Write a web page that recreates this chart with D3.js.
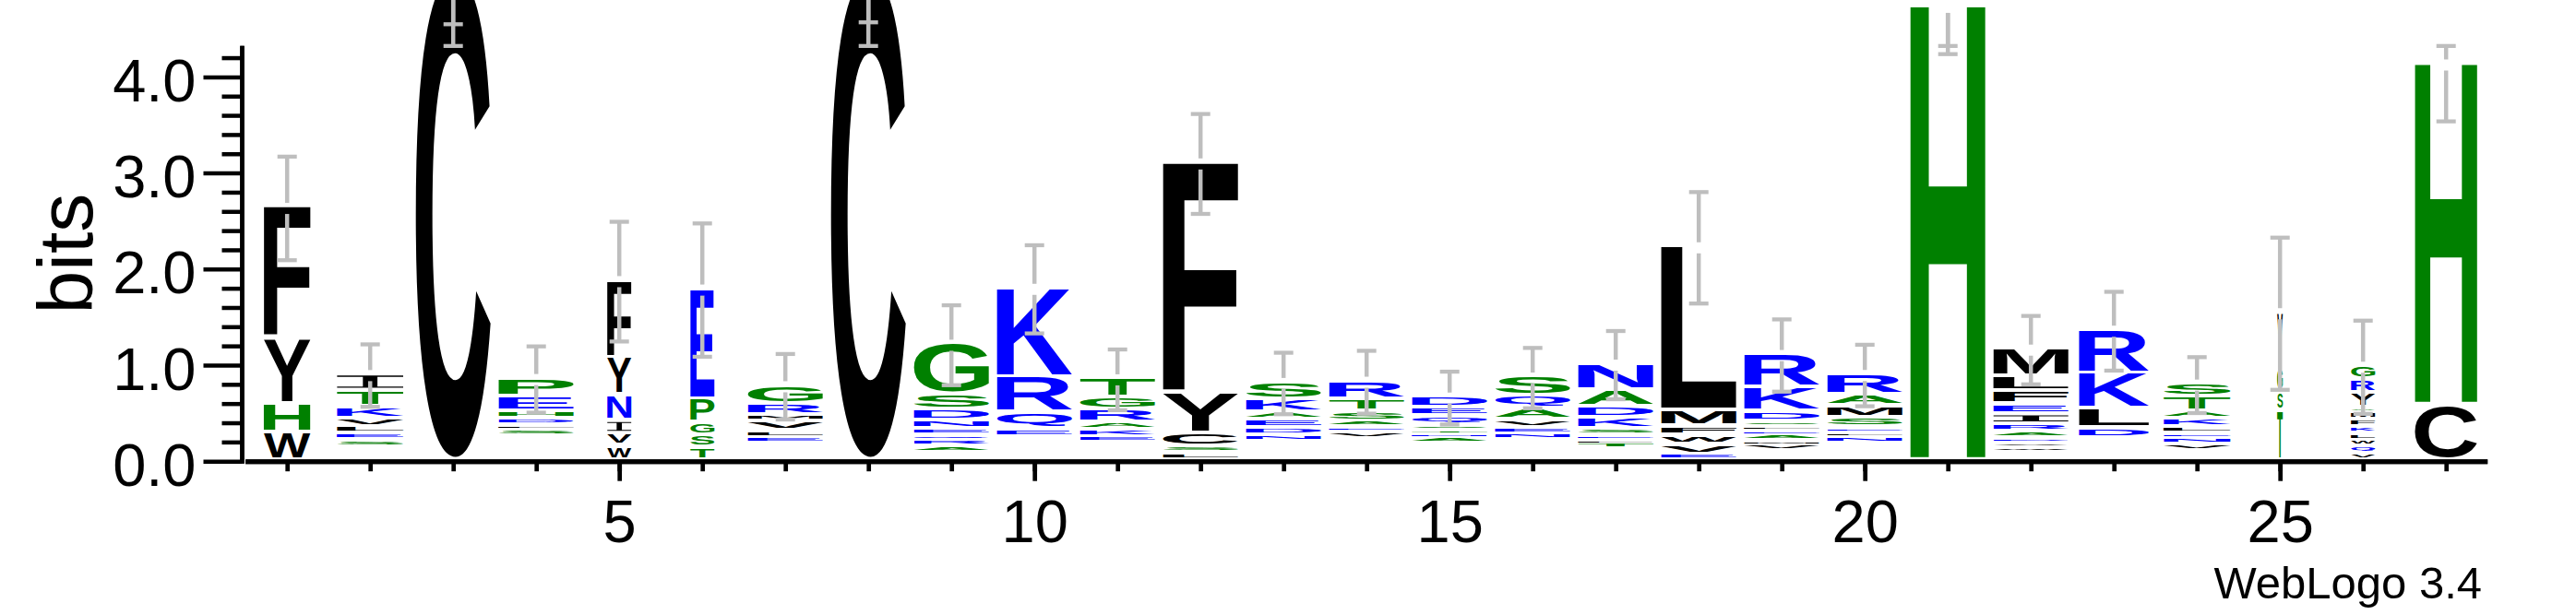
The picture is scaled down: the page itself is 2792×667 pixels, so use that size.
<!DOCTYPE html>
<html>
<head>
<meta charset="utf-8">
<script src="https://cdn.jsdelivr.net/npm/d3@7"></script>
<style>
  html, body { margin: 0; padding: 0; background: #ffffff; }
  svg { display: block; }
</style>
</head>
<body>
<svg id="chart" width="2792" height="667"></svg>
<script>
// ---------------- DATA ----------------
const positions = [1,2,3,4,5,6,7,8,9,10,11,12,13,14,15,16,17,18,19,20,21,22,23,24,25,26,27];

// letters of each stack, listed bottom -> top
const stackLetters = [
  "WHYF", "SELVKTI", "C", "SLDHEP", "WVINYF", "TSGPE", "ELVMRG", "C", "ARQENDSG",
  "EQRK", "EKARGT", "LSCYF", "NDEAKS", "VEASTR", "ANTSQED", "NEVAQS", "TLESKDAN",
  "EVWFML", "VMAELSDKR", "NLESMAR", "H", "WVDARIEFLM", "DLKR", "VNELKATS", "TSGY",
  "VQWLKFMAYRG", "CH"
];

// height (bits) of each letter, same order as stackLetters
const stackBits = [
  [0.288, 0.297, 0.684, 1.362],
  [0.072, 0.067, 0.074, 0.086, 0.118, 0.170, 0.170],
  [5.045],
  [0.059, 0.048, 0.067, 0.077, 0.154, 0.192],
  [0.146, 0.128, 0.134, 0.266, 0.393, 0.802],
  [0.130, 0.129, 0.128, 0.247, 1.147],
  [0.058, 0.072, 0.106, 0.060, 0.112, 0.197],
  [5.045],
  [0.059, 0.061, 0.058, 0.063, 0.090, 0.111, 0.157, 0.528],
  [0.081, 0.171, 0.369, 0.928],
  [0.059, 0.077, 0.074, 0.134, 0.131, 0.195],
  [0.072, 0.067, 0.141, 0.425, 2.389],
  [0.066, 0.073, 0.086, 0.081, 0.137, 0.176],
  [0.072, 0.053, 0.058, 0.106, 0.123, 0.192],
  [0.059, 0.045, 0.041, 0.048, 0.096, 0.090, 0.111],
  [0.060, 0.067, 0.080, 0.112, 0.134, 0.202],
  [0.060, 0.032, 0.048, 0.070, 0.119, 0.111, 0.179, 0.269],
  [0.057, 0.106, 0.096, 0.089, 0.166, 1.707],
  [0.056, 0.052, 0.058, 0.048, 0.048, 0.048, 0.102, 0.250, 0.345],
  [0.062, 0.051, 0.055, 0.103, 0.121, 0.112, 0.218],
  [4.724],
  [0.053, 0.048, 0.055, 0.058, 0.080, 0.106, 0.103, 0.134, 0.154, 0.288],
  [0.101, 0.199, 0.368, 0.455],
  [0.066, 0.063, 0.055, 0.058, 0.089, 0.077, 0.151, 0.137],
  [0.513, 0.199, 0.240, 0.583],
  [0.066, 0.073, 0.064, 0.070, 0.071, 0.073, 0.081, 0.048, 0.150, 0.144, 0.138],
  [0.576, 3.548]
];

// bits taken by symbols too small to be drawn (bottom of stack)
const hiddenBase = [0, 0.134, 0, 0.253, 0, 0, 0.170, 0, 0.080, 0.240, 0.177, 0, 0.190, 0.218,
  0.167, 0.210, 0.112, 0, 0.093, 0.170, 0, 0.077, 0.230, 0.096, 0, 0, 0];

// relative stack width (fraction of sequences present)
const stackWidth = [0.62, 0.885, 1, 1, 0.32, 0.32, 1, 1, 1, 1, 1, 1, 1, 1, 1, 1, 1, 1, 1, 1, 1, 1,
  0.93, 0.89, 0.074, 0.32, 0.83];

// half-length of the error bar (bits)
const errHalf = [0.539, 0.325, 0.497, 0.345, 0.623, 0.694, 0.341, 0.477, 0.416, 0.459, 0.316,
  0.520, 0.320, 0.327, 0.275, 0.314, 0.355, 0.580, 0.376, 0.320, 0.487, 0.356, 0.410, 0.291,
  0.792, 0.485, 0.587];

const yMajorTicks = [0, 1, 2, 3, 4];
const yMinorTicks = [0.2, 0.4, 0.6, 0.8, 1.2, 1.4, 1.6, 1.8, 2.2, 2.4, 2.6, 2.8, 3.2, 3.4, 3.6, 3.8, 4.2];
const xLabelTicks = [5, 10, 15, 20, 25];
const yAxisTitle = "bits";
const fineprint = "WebLogo 3.4";
const maxBits = Math.log2(20);

// ---------------- DRAW ----------------
const svg = d3.select("#chart");
svg.append("rect").attr("width", 2792).attr("height", 667).attr("fill", "#ffffff");

const x = d3.scaleLinear().domain([0.5, 27.5]).range([266.2, 2696.2]);
const y = d3.scaleLinear().domain([0, maxBits]).range([500.2, 500.2 - maxBits * 104.2]);
const fullWidth = 81;
const font = '"Liberation Sans", Arial, sans-serif';

const colorOf = ch => "RKDENQ".includes(ch) ? "#0000ff" : ("SGHTAP".includes(ch) ? "#008000" : "#000000");

// exact ink bounds of each glyph, measured by scanning a canvas
const FS = 1000, OX = 300, OY = 1150;
const canvas = document.createElement("canvas");
canvas.width = 1600; canvas.height = 1500;
const ctx = canvas.getContext("2d", { willReadFrequently: true });
const metricCache = {};
function glyphMetrics(ch) {
  if (metricCache[ch]) return metricCache[ch];
  ctx.clearRect(0, 0, canvas.width, canvas.height);
  ctx.font = `bold ${FS}px "Liberation Sans"`;
  ctx.textBaseline = "alphabetic";
  ctx.fillStyle = "#000";
  ctx.fillText(ch, OX, OY);
  const data = ctx.getImageData(0, 0, canvas.width, canvas.height).data;
  let minX = Infinity, maxX = -1, minY = Infinity, maxY = -1;
  for (let yy = 0; yy < canvas.height; yy++) {
    for (let xx = 0; xx < canvas.width; xx++) {
      if (data[(yy * canvas.width + xx) * 4 + 3] > 127) {
        if (xx < minX) minX = xx; if (xx > maxX) maxX = xx;
        if (yy < minY) minY = yy; if (yy > maxY) maxY = yy;
      }
    }
  }
  let res;
  if (maxX < 0) {
    const t = ctx.measureText(ch);
    res = { l: t.actualBoundingBoxLeft, r: t.actualBoundingBoxRight, a: t.actualBoundingBoxAscent, d: t.actualBoundingBoxDescent };
  } else {
    res = { l: OX - minX, r: maxX + 1 - OX, a: OY - minY, d: maxY + 1 - OY };
  }
  metricCache[ch] = res;
  return res;
}

const gLetters = svg.append("g").attr("class", "letters");
const stackTops = [];

positions.forEach((p, i) => {
  const w = fullWidth * stackWidth[i];
  const x0 = x(p) - w / 2;
  let cum = hiddenBase[i];
  stackLetters[i].split("").forEach((ch, j) => {
    const h = stackBits[i][j];
    const yTop = y(cum + h), yBot = y(cum);
    cum += h;
    const box = yBot - yTop;
    const pad = Math.min(4.5, 0.7 * box);
    const inkH = box - pad;
    if (inkH < 0.4) return;
    if (ch === "I") {
      const t = Math.max(1, inkH * 0.1);
      const s = Math.max(1.5, w * 0.22);
      const side = (w - s) / 2;
      const d = `M${x0},${yTop}h${w}v${t}h${-side}v${inkH - 2 * t}h${side}v${t}h${-w}v${-t}h${side}v${-(inkH - 2 * t)}h${-side}Z`;
      gLetters.append("path").attr("d", d).attr("fill", colorOf(ch));
    } else {
      const m = glyphMetrics(ch);
      const sx = w / (m.l + m.r);
      const sy = inkH / (m.a + m.d);
      gLetters.append("text")
        .attr("transform", `translate(${x0 + m.l * sx},${yTop + m.a * sy}) scale(${sx},${sy})`)
        .attr("font-family", '"Liberation Sans"')
        .attr("font-weight", "bold")
        .attr("font-size", FS + "px")
        .attr("fill", colorOf(ch))
        .text(ch);
    }
  });
  stackTops.push(cum);
});

// error bars
const gErr = svg.append("g").attr("class", "errorbars");
const gap = 6;
positions.forEach((p, i) => {
  const top = stackTops[i];
  const cx = x(p);
  const yt = y(top);
  const ends = [Math.min(top + errHalf[i], maxBits), top - errHalf[i]];
  ends.forEach(v => {
    const ye = y(v);
    const dir = Math.sign(ye - yt);
    if (Math.abs(ye - yt) > gap) {
      gErr.append("line").attr("x1", cx).attr("x2", cx)
        .attr("y1", yt + dir * gap).attr("y2", ye)
        .attr("stroke", "#bebebe").attr("stroke-width", 4.5);
    }
    gErr.append("line").attr("x1", cx - 10.5).attr("x2", cx + 10.5)
      .attr("y1", ye).attr("y2", ye)
      .attr("stroke", "#bebebe").attr("stroke-width", 4.3);
  });
});

// axes
const yMinorAxis = d3.axisLeft(y).tickValues(yMinorTicks).tickSize(21.5).tickSizeOuter(0).tickFormat("");
const yMajorAxis = d3.axisLeft(y).tickValues(yMajorTicks).tickSize(41.5).tickSizeOuter(0)
  .tickPadding(8).tickFormat(d3.format(".1f"));

const gy1 = svg.append("g").attr("transform", "translate(262,0)").call(yMinorAxis);
const gy2 = svg.append("g").attr("transform", "translate(262,0)").call(yMajorAxis);
[gy1, gy2].forEach(g => {
  g.select(".domain").attr("stroke", "#000").attr("stroke-width", 4.5)
    .attr("d", `M0.5,${y(0) + 2.5}V${y(maxBits)}`);
  g.selectAll(".tick line").attr("stroke", "#000").attr("stroke-width", 4.5);
});
gy2.selectAll(".tick text")
  .attr("font-family", font).attr("font-size", "65px").attr("fill", "#000")
  .attr("dy", "0.4em");

const xMinorAxis = d3.axisBottom(x).tickValues(positions).tickSize(11).tickSizeOuter(0).tickFormat("");
const xMajorAxis = d3.axisBottom(x).tickValues(xLabelTicks).tickSize(21.5).tickSizeOuter(0)
  .tickPadding(20).tickFormat(d3.format("d"));
const gx1 = svg.append("g").attr("transform", `translate(0,${y(0)})`).call(xMinorAxis);
const gx2 = svg.append("g").attr("transform", `translate(0,${y(0)})`).call(xMajorAxis);
[gx1, gx2].forEach(g => {
  g.select(".domain").attr("stroke", "#000").attr("stroke-width", 5)
    .attr("d", `M${x(0.5)},0.5H${x(27.5)}`);
  g.selectAll(".tick line").attr("stroke", "#000").attr("stroke-width", 4.7);
});
gx2.selectAll(".tick text")
  .attr("font-family", font).attr("font-size", "65px").attr("fill", "#000")
  .attr("dy", "0.71em");

// axis title
svg.append("text")
  .attr("transform", `translate(100,${(y(0) + y(maxBits)) / 2}) rotate(-90)`)
  .attr("text-anchor", "middle")
  .attr("font-family", font).attr("font-size", "84px").attr("fill", "#000")
  .text(yAxisTitle);

// fine print
svg.append("text")
  .attr("x", 2690).attr("y", 648.5)
  .attr("text-anchor", "end")
  .attr("font-family", font).attr("font-size", "49px").attr("fill", "#000")
  .text(fineprint);
</script>
</body>
</html>
